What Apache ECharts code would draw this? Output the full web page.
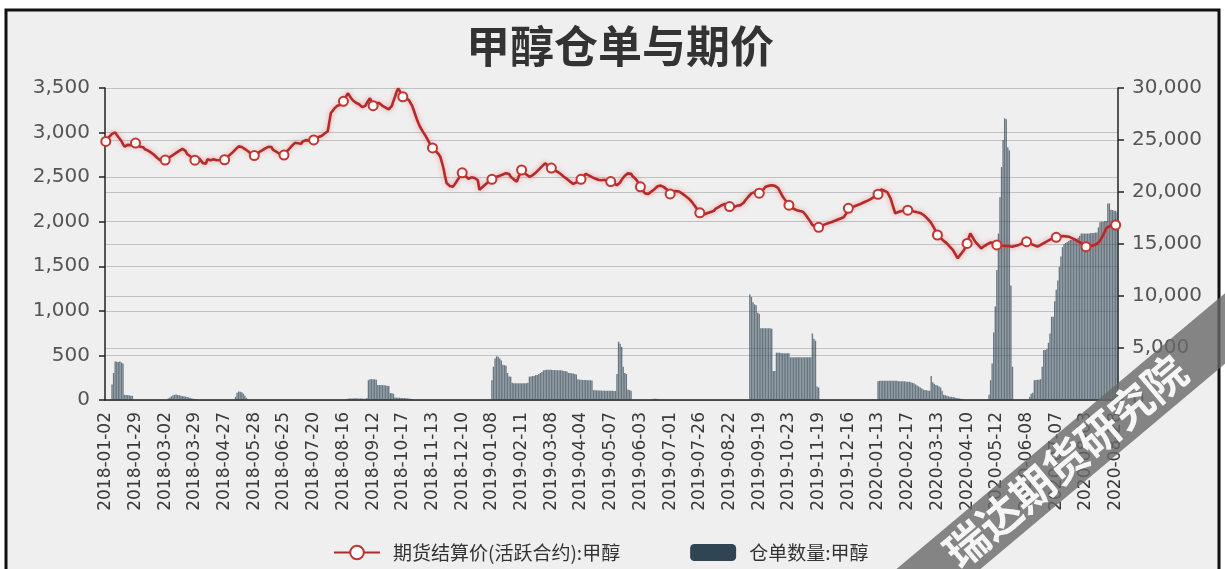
<!DOCTYPE html>
<html><head><meta charset="utf-8">
<script src="https://cdn.jsdelivr.net/npm/echarts@6/dist/echarts.min.js"></script>
<style>html,body{margin:0;padding:0;background:#fff;}#c{width:1225px;height:569px;}</style>
</head><body><div id="c"></div>
<script>
// trading calendar (Chinese futures exchanges)
const startDate = '2018-01-02';
const endDate = '2020-08-31';
const holidays = [
 '2018-02-15','2018-02-16','2018-02-19','2018-02-20','2018-02-21','2018-04-05','2018-04-06','2018-04-30','2018-05-01',
 '2018-06-18','2018-09-24','2018-10-01','2018-10-02','2018-10-03','2018-10-04','2018-10-05','2018-12-31',
 '2019-01-01','2019-02-04','2019-02-05','2019-02-06','2019-02-07','2019-02-08','2019-04-05','2019-05-01','2019-05-02',
 '2019-05-03','2019-06-07','2019-09-13','2019-10-01','2019-10-02','2019-10-03','2019-10-04','2019-10-07',
 '2020-01-01','2020-01-24','2020-01-27','2020-01-28','2020-01-29','2020-01-30','2020-01-31','2020-04-06',
 '2020-05-01','2020-05-04','2020-05-05','2020-06-25','2020-06-26'
];

// 期货结算价(活跃合约):甲醇  (left axis)
const priceData = [
 2900,2925,2948,2962,2985,2990,3002,2975,2950,2930,2905,2870,2842,2855,2862,2872,2858,2866,2878,
 2882,2865,2850,2842,2828,2835,2812,2806,2798,2790,2775,2762,2748,2730,2715,2702,2688,2695,2701,
 2692,2712,2705,2728,2722,2748,2740,2772,2765,2795,2788,2818,2805,2795,2760,2770,2735,2725,2700,
 2690,2715,2722,2705,2690,2660,2675,2650,2700,2712,2690,2675,2700,2712,2690,2675,2692,2712,2695,
 2695,2718,2712,2745,2740,2775,2770,2812,2800,2845,2862,2838,2845,2815,2822,2790,2795,2760,2770,
 2742,2760,2752,2780,2772,2800,2795,2822,2815,2840,2830,2838,2805,2815,2785,2792,2765,2772,2750,
 2748,2775,2770,2810,2805,2850,2845,2885,2898,2880,2895,2875,2900,2890,2915,2895,2910,2920,2905,
 2918,2930,2942,2950,2945,2962,2975,2990,3002,3015,3120,3220,3240,3265,3280,3300,3318,3310,3335,
 3350,3380,3415,3440,3412,3385,3362,3350,3335,3328,3318,3302,3285,3275,3300,3332,3360,3385,3345,
 3302,3318,3332,3342,3330,3315,3300,3288,3280,3270,3260,3252,3300,3355,3402,3455,3495,3470,3430,
 3402,3395,3388,3378,3362,3345,3300,3250,3200,3150,3105,3065,3035,3005,2978,2950,2918,2885,2855,
 2828,2812,2795,2780,2755,2728,2665,2600,2512,2435,2420,2402,2395,2392,2415,2440,2462,2495,2525,
 2548,2530,2512,2495,2482,2490,2498,2502,2490,2478,2465,2358,2372,2390,2405,2420,2435,2450,2462,
 2476,2495,2478,2505,2490,2515,2500,2530,2520,2545,2525,2535,2505,2512,2475,2485,2450,2500,2540,
 2580,2555,2565,2530,2540,2505,2495,2520,2512,2550,2540,2585,2575,2620,2610,2655,2662,2630,2640,
 2602,2610,2580,2590,2560,2570,2535,2540,2505,2515,2480,2490,2450,2458,2425,2412,2440,2432,2465,
 2476,2500,2495,2535,2542,2520,2530,2500,2508,2485,2495,2470,2480,2465,2485,2470,2480,2455,2465,
 2450,2460,2432,2440,2410,2425,2440,2470,2480,2515,2525,2542,2530,2538,2510,2520,2480,2490,2430,
 2392,2356,2335,2318,2300,2312,2325,2338,2350,2365,2382,2398,2412,2405,2395,2388,2380,2360,2335,
 2312,2325,2340,2350,2345,2340,2336,2325,2312,2300,2285,2272,2258,2244,2220,2195,2172,2150,2125,
 2100,2076,2090,2084,2102,2098,2115,2110,2130,2122,2145,2140,2165,2158,2185,2178,2200,2206,2188,
 2170,2150,2158,2165,2172,2180,2184,2186,2188,2212,2238,2260,2280,2298,2318,2337,2332,2328,2322,
 2320,2318,2345,2370,2393,2398,2402,2406,2410,2412,2402,2392,2380,2348,2315,2282,2258,2235,2210,
 2185,2162,2155,2146,2138,2130,2125,2120,2116,2112,2092,2070,2050,2020,1992,1963,1955,1948,1942,
 1937,1945,1954,1962,1970,1976,1982,1988,1994,2000,2008,2015,2022,2030,2036,2043,2050,2056,2100,
 2150,2155,2162,2168,2174,2180,2188,2195,2202,2210,2218,2225,2234,2242,2251,2260,2272,2284,2296,
 2308,2335,2362,2355,2348,2340,2330,2318,2262,2205,2150,2095,2102,2108,2114,2120,2122,2125,2128,
 2130,2131,2126,2120,2115,2110,2106,2102,2098,2094,2078,2062,2046,2030,2008,1985,1963,1925,1888,
 1851,1834,1817,1800,1785,1771,1757,1738,1718,1700,1680,1650,1620,1590,1612,1636,1660,1683,1720,
 1757,1815,1870,1840,1810,1780,1760,1740,1720,1701,1714,1727,1740,1749,1758,1767,1776,1764,1751,
 1739,1737,1735,1733,1731,1730,1728,1726,1724,1722,1720,1725,1730,1735,1740,1747,1755,1762,1769,
 1776,1767,1758,1750,1742,1735,1727,1720,1730,1740,1750,1760,1770,1780,1790,1800,1806,1812,1819,
 1825,1829,1833,1836,1840,1838,1836,1834,1832,1824,1816,1808,1800,1790,1780,1770,1760,1747,1733,
 1720,1722,1725,1727,1730,1737,1744,1750,1757,1788,1819,1850,1888,1926,1938,1949,1960,1961,1962,
 1963,1968
];

// 仓单数量:甲醇 (right axis)
const receiptData = [
 0,0,0,0,1500,2600,3700,3680,3650,3700,3600,3500,500,480,460,450,420,400,0,
 0,0,0,0,0,0,0,0,0,0,0,0,0,0,0,0,0,0,0,
 0,0,150,250,350,450,500,520,480,450,400,380,350,320,300,250,200,150,120,
 100,80,0,0,0,0,0,0,0,0,0,0,0,0,0,0,0,0,0,
 0,0,0,0,0,0,0,300,700,820,800,750,600,400,200,0,0,0,0,
 0,0,0,0,0,0,0,0,0,0,0,0,0,0,0,0,0,0,0,
 0,0,0,0,0,0,0,0,0,0,0,0,0,0,0,0,0,0,0,
 0,0,0,0,0,0,0,0,0,0,0,0,0,0,0,0,0,0,0,
 0,0,100,120,150,150,150,160,170,150,150,150,140,130,120,200,1900,2000,2000,
 1990,1980,1950,1450,1440,1440,1430,1420,1400,1380,1350,670,650,600,250,230,220,210,200,
 200,190,180,160,150,120,100,0,0,0,0,0,0,0,0,0,0,0,0,
 0,0,0,0,0,0,0,0,0,0,0,0,0,0,0,0,0,0,0,
 0,0,0,0,0,0,0,0,0,0,0,0,0,0,0,0,0,0,0,
 1900,3200,4000,4200,4150,4000,3800,3400,3350,3300,2600,2250,2240,1650,1600,1600,1600,1600,1600,
 1600,1600,1600,1600,1650,2250,2250,2300,2300,2400,2400,2500,2600,2700,2850,2880,2900,2900,2900,
 2900,2880,2880,2870,2860,2850,2850,2830,2800,2780,2750,2600,2600,2560,2550,2500,2450,2000,1950,
 1950,1920,1920,1920,1900,1900,1900,1880,950,940,930,920,920,910,900,900,900,890,890,
 880,880,870,870,2500,5600,5400,5100,3200,2600,2500,1000,950,900,0,0,0,0,0,
 0,0,0,0,0,0,0,0,100,120,120,100,80,0,0,0,0,0,0,
 0,0,0,0,0,0,0,0,0,0,0,0,0,0,0,0,0,0,0,
 0,0,0,0,0,0,0,0,0,0,0,0,0,0,0,0,0,0,0,
 0,0,0,0,0,0,0,0,0,0,0,0,0,10150,9900,9400,9200,9100,8400,
 8300,6900,6900,6900,6900,6900,6900,6900,6850,2800,2800,4550,4550,4550,4500,4500,4500,4500,4500,
 4500,4100,4100,4100,4100,4100,4100,4100,4100,4100,4100,4100,4100,4100,4100,6400,5900,5700,1300,
 1200,0,0,0,0,0,0,0,0,0,0,0,0,0,0,0,0,0,0,
 0,0,0,0,0,0,0,0,0,0,0,0,0,0,0,0,0,0,0,
 1800,1850,1850,1850,1850,1850,1850,1850,1850,1850,1850,1850,1850,1800,1800,1800,1800,1800,1750,
 1750,1750,1700,1650,1600,1500,1400,1300,1200,1100,1000,950,950,900,900,2300,1700,1550,1450,
 1400,1300,1200,900,500,450,400,350,320,300,280,250,200,180,150,120,100,0,0,
 0,0,0,0,0,0,0,0,0,0,0,0,0,0,500,1900,3500,6500,9000,
 12500,16000,19500,22400,25000,27100,27000,24300,24000,11000,3200,0,0,0,0,0,0,0,0,
 0,0,300,600,700,1900,1920,1950,1950,2000,3200,4800,4800,4900,5500,6400,8000,8000,9500,
 10600,11500,12800,13800,14700,15000,15100,15200,15300,15400,15400,15400,15400,15500,15600,15800,16000,16000,16000,
 16000,16000,16000,16050,16050,16050,16100,16100,16600,17100,17150,17150,17200,17200,18900,18900,18300,18270,18200,
 18200,18000
];

const leftAxis = { min: 0, max: 3500, interval: 500 };
const rightAxis = { min: 0, max: 30000, interval: 5000 };
const titleText = '甲醇仓单与期价';
const lineName = '期货结算价(活跃合约):甲醇';
const barName = '仓单数量:甲醇';
const watermarkText = '瑞达期货研究院';

function tradingDays(s, e, hol) {
  const set = new Set(hol), out = [];
  let t = Date.parse(s + 'T00:00:00Z');
  const end = Date.parse(e + 'T00:00:00Z');
  while (t <= end) {
    const d = new Date(t), w = d.getUTCDay(), str = d.toISOString().slice(0, 10);
    if (w !== 0 && w !== 6 && !set.has(str)) out.push(str);
    t += 86400000;
  }
  return out;
}
const categories = tradingDays(startDate, endDate, holidays);

const fmt = v => String(v).replace(/\B(?=(\d{3})+(?!\d))/g, ',');
const axisCol = '#222';
const chart = echarts.init(document.getElementById('c'));
chart.setOption({
  backgroundColor: '#fff',
  animation: false,
  title: {
    text: titleText, left: 615, top: 19, textAlign: 'center',
    textStyle: { fontSize: 44, fontWeight: 'bold', color: '#333', fontFamily: 'Noto Sans CJK SC' }
  },
  grid: { left: 105, right: 107, top: 88, bottom: 169, containLabel: false },
  legend: {
    top: 538, left: 328, itemGap: 70, itemWidth: 46, itemHeight: 17,
    textStyle: { fontSize: 19, color: '#333', fontFamily: 'Noto Sans CJK SC', padding: [0, 0, 0, 8] },
    data: [{ name: lineName }, { name: barName, itemStyle: { opacity: 1, color: '#2f4554' } }]
  },
  xAxis: {
    type: 'category', data: categories, boundaryGap: true,
    axisLine: { lineStyle: { color: axisCol, width: 1.5 } },
    axisTick: { interval: i => i % 19 === 10, length: 6, lineStyle: { color: axisCol, width: 1.5 } },
    axisLabel: { interval: 18, rotate: 90, fontSize: 17, color: '#3a3a3a', fontFamily: 'DejaVu Sans', margin: 12 }
  },
  yAxis: [
    {
      type: 'value', position: 'left', min: leftAxis.min, max: leftAxis.max, interval: leftAxis.interval,
      axisLine: { show: true, lineStyle: { color: axisCol, width: 1.5 } },
      axisTick: { show: true, length: 6, lineStyle: { color: axisCol, width: 1.5 } },
      axisLabel: { fontSize: 20, color: '#555', fontFamily: 'DejaVu Sans', margin: 15, formatter: fmt },
      splitLine: { lineStyle: { color: '#c2c2c2', width: 1.2 } }
    },
    {
      type: 'value', position: 'right', min: rightAxis.min, max: rightAxis.max, interval: rightAxis.interval,
      axisLine: { show: true, lineStyle: { color: axisCol, width: 1.5 } },
      axisTick: { show: true, length: 6, lineStyle: { color: axisCol, width: 1.5 } },
      axisLabel: { fontSize: 20, color: '#555', fontFamily: 'DejaVu Sans', margin: 14, formatter: fmt },
      splitLine: { lineStyle: { color: '#c2c2c2', width: 1.2 } }
    }
  ],
  series: [
    {
      name: lineName, type: 'line', yAxisIndex: 0, data: priceData, z: 3,
      symbol: 'emptyCircle', symbolSize: 9, showSymbol: true, showAllSymbol: 'auto',
      itemStyle: { color: '#c23531', borderColor: '#e39090', borderWidth: 1 },
      lineStyle: { color: '#b22b2a', width: 2.6, shadowColor: 'rgba(235,90,90,0.6)', shadowBlur: 5 }
    },
    {
      name: barName, type: 'bar', yAxisIndex: 1, data: receiptData, z: 2,
      barCategoryGap: '12%',
      itemStyle: { color: '#2f4554', opacity: 0.7 }
    }
  ],
  graphic: [
    { type: 'rect', z: -100, silent: true, shape: { x: 6, y: 10, width: 1213, height: 620 },
      style: { fill: '#efefef', stroke: '#111', lineWidth: 3 } },
    { type: 'group', x: 1066, y: 462, rotation: 40 * Math.PI / 180, z: 100, silent: true,
      children: [
        { type: 'rect', z: 100, shape: { x: -420, y: -27, width: 840, height: 54 },
          style: { fill: 'rgba(105,105,105,0.8)' } },
        { type: 'text', z: 101, x: 0, y: -1,
          style: { text: watermarkText, font: 'bold 43px "Noto Sans CJK SC"', fill: 'rgba(255,255,255,0.93)',
                   align: 'center', verticalAlign: 'middle' } }
      ] }
  ]
});
</script>
</body></html>
